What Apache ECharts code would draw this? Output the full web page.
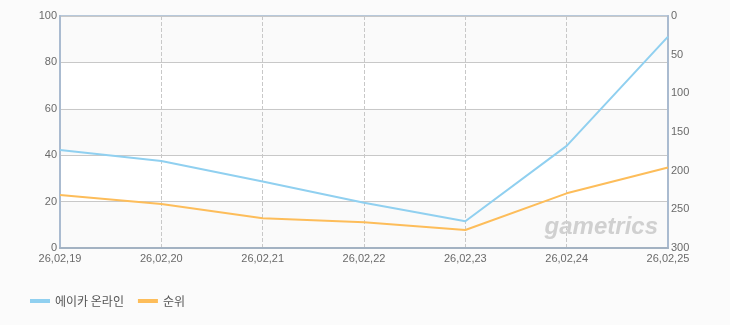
<!DOCTYPE html>
<html><head><meta charset="utf-8">
<script src="https://cdn.jsdelivr.net/npm/echarts@6/dist/echarts.min.js"></script>
<style>html,body{margin:0;padding:0;background:#fbfbfb}#c{width:730px;height:325px}</style>
</head><body><div id="c"></div>
<script>
const categories = ['26,02,19','26,02,20','26,02,21','26,02,22','26,02,23','26,02,24','26,02,25'];
const seriesNames = ['에이카 온라인','순위'];
const gameValues = [42.2, 37.5, 28.7, 19.5, 11.5, 44, 91.1];
const rankValues = [231.5, 243, 261.6, 266.8, 276.7, 229.3, 196];
const leftTicks = [0, 20, 40, 60, 80, 100];
const rightTicks = [0, 50, 100, 150, 200, 250, 300];

const chart = echarts.init(document.getElementById('c'));
const lbl = {color:'#6a6a6a', fontSize:11, fontFamily:'Liberation Sans, Arial, sans-serif'};
chart.setOption({
  backgroundColor:'#fbfbfb',
  animation:false,
  grid:{left:60, right:62, top:16, bottom:77, show:true, borderColor:'#b7c8da', borderWidth:2, backgroundColor:'transparent'},
  legend:{left:25, top:290, itemWidth:20, itemHeight:4, itemGap:14, icon:'rect',
    textStyle:{color:'#555', fontSize:12, fontFamily:'Noto Sans CJK KR, sans-serif'},
    data:seriesNames},
  xAxis:{type:'category', data:categories, boundaryGap:false,
    axisLine:{lineStyle:{color:'#a3b2c2', width:2}}, axisTick:{show:false},
    axisLabel:Object.assign({margin:5, interval:0}, lbl),
    splitLine:{show:true, lineStyle:{color:'#c8c8c8', type:'dashed'}}},
  yAxis:[
    {type:'value', min:leftTicks[0], max:leftTicks[leftTicks.length-1], interval:20,
     axisLine:{show:true, lineStyle:{color:'#aabbd0', width:2}}, axisTick:{show:false},
     axisLabel:Object.assign({margin:3}, lbl),
     splitLine:{lineStyle:{color:'#c8c8c8'}},
     splitArea:{show:true, areaStyle:{color:['#fafafa','#ffffff']}}},
    {type:'value', inverse:true, min:rightTicks[0], max:rightTicks[rightTicks.length-1], interval:50,
     axisLine:{show:true, lineStyle:{color:'#aabbd0', width:2}}, axisTick:{show:false},
     axisLabel:Object.assign({margin:3}, lbl),
     splitLine:{show:false}}
  ],
  graphic:[{type:'text', right:72, bottom:86, z:1,
    style:{text:'gametrics', fill:'#d0d0d0', font:'italic bold 24px Liberation Sans, Arial, sans-serif'}}],
  series:[
    {name:seriesNames[0], type:'line', yAxisIndex:0, data:gameValues, symbol:'none',
     lineStyle:{color:'#90d0f0', width:2}, itemStyle:{color:'#90d0f0'}},
    {name:seriesNames[1], type:'line', yAxisIndex:1, data:rankValues, symbol:'none',
     lineStyle:{color:'#fdbd5a', width:2}, itemStyle:{color:'#fdbd5a'}}
  ]
});
</script></body></html>
